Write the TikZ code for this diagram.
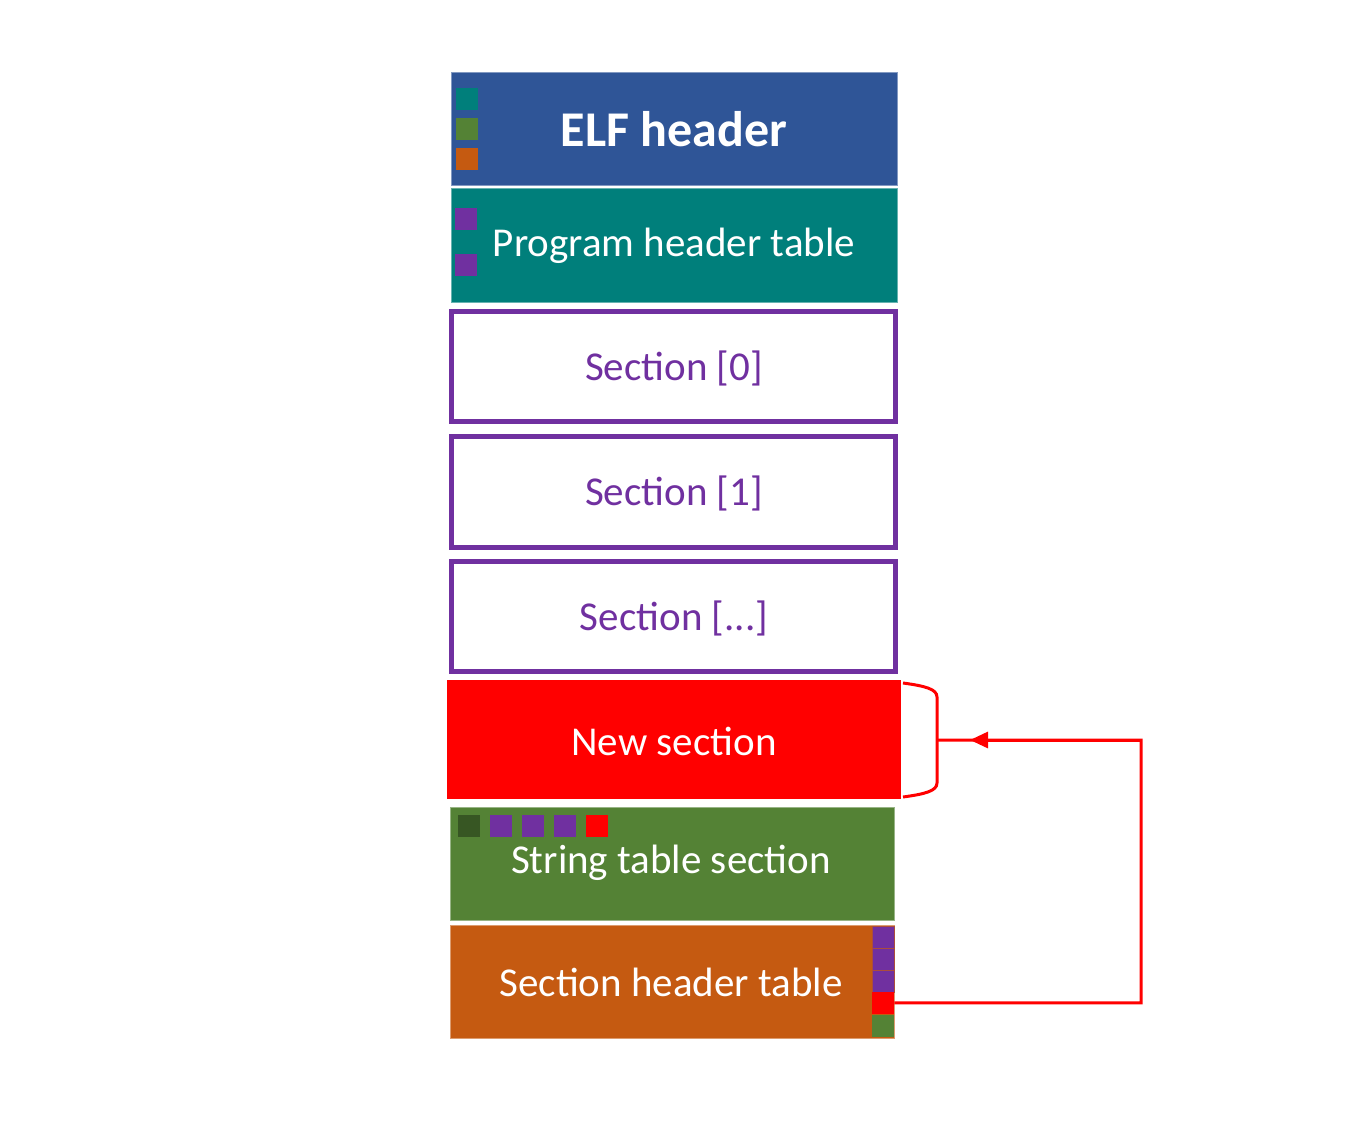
\documentclass[tikz,border=0pt]{standalone}
\usepackage{fontspec}
\setmainfont{Carlito}
\usetikzlibrary{arrows.meta}
\definecolor{elfblue}{HTML}{2F5597}
\definecolor{pteal}{HTML}{007F7B}
\definecolor{sgreen}{HTML}{548235}
\definecolor{dgreen}{HTML}{375623}
\definecolor{sorange}{HTML}{C55A11}
\definecolor{spurple}{HTML}{7030A0}
\definecolor{nred}{HTML}{FF0000}
\tikzset{
  blk/.style={anchor=north west, inner sep=0pt, outer sep=0pt},
  lbl/.style={font=\fontsize{41}{48}\selectfont, text=white},
  sq/.style={inner sep=0pt, minimum width=22, minimum height=22, anchor=north west},
  redline/.style={draw=nred, line width=3},
}
\begin{document}
\begin{tikzpicture}[x=1pt,y=-1pt]
\useasboundingbox (0,0) rectangle (1361,1120);
% ELF header
\path[fill=elfblue, draw=elfblue!60!white, line width=1] (451,72) rectangle (897,185);
\node[lbl, font=\fontsize{50}{56}\selectfont\bfseries] (elf) at (674,129) {ELF header};
\node[sq, fill=pteal] (e1) at (456,88) {};
\node[sq, fill=sgreen] (e2) at (456,118) {};
\node[sq, fill=sorange] (e3) at (456,148) {};
% Program header table
\path[fill=pteal, draw=pteal!60!white, line width=1] (451,188) rectangle (897,302);
\node[lbl] (pht) at (674,246) {Program header table};
\node[sq, fill=spurple] (p1) at (455,208) {};
\node[sq, fill=spurple] (p2) at (455,254) {};
% Sections
\path[fill=white, draw=spurple, line width=5] (451.5,311.5) rectangle (895.5,421.5);
\node[lbl, text=spurple] (s0) at (674,368) {Section [0]};
\path[fill=white, draw=spurple, line width=5] (451.5,436.5) rectangle (895.5,547.5);
\node[lbl, text=spurple] (s1) at (674,493) {Section [1]};
\path[fill=white, draw=spurple, line width=5] (451.5,561.5) rectangle (895.5,671.5);
\node[lbl, text=spurple] (sd) at (674,618) {Section [...]};
% New section
\path[fill=nred] (447,680) rectangle (901,799);
\node[lbl] (ns) at (674,741) {New section};
% String table
\path[fill=sgreen, draw=sgreen!60!white, line width=1] (450,807) rectangle (894,920);
\node[lbl] (st) at (671,863) {String table section};
\node[sq, fill=dgreen] (t1) at (458,815) {};
\node[sq, fill=spurple] (t2) at (490,815) {};
\node[sq, fill=spurple] (t3) at (522,815) {};
\node[sq, fill=spurple] (t4) at (554,815) {};
\node[sq, fill=nred] (t5) at (586,815) {};
% Section header table
\path[fill=sorange, draw=sorange!60!white, line width=1] (450,925) rectangle (894,1038);
\node[lbl] (sht) at (671,982) {Section header table};
\node[sq, fill=spurple, minimum height=21.5, draw=sorange!70!spurple, line width=0.6] (h1) at (872,926) {};
\node[sq, fill=spurple, minimum height=21.5, draw=sorange!70!spurple, line width=0.6] (h2) at (872,948) {};
\node[sq, fill=spurple, minimum height=21.5, draw=sorange!70!spurple, line width=0.6] (h3) at (872,970) {};
\node[sq, fill=nred, minimum height=21.5] (h4) at (872,992) {};
\node[sq, fill=sgreen, minimum height=22] (h5) at (872,1015) {};
% brace
\draw[redline] (903,683) .. controls (925,686) and (937,689) .. (937,697) -- (937,783) .. controls (937,791) and (925,794) .. (903,797);
\coordinate (bt) at (937,740);
\coordinate (c1) at (1141,1002.75);
\coordinate (c2) at (1141,740);
\coordinate (tip) at (970,740);
\draw[redline, line join=miter] (h4.east) -- (c1) -- (c2) -- (bt);
\draw[redline, -{Triangle[length=18, width=16]}] (c2) -- (tip);
\end{tikzpicture}
\end{document}
